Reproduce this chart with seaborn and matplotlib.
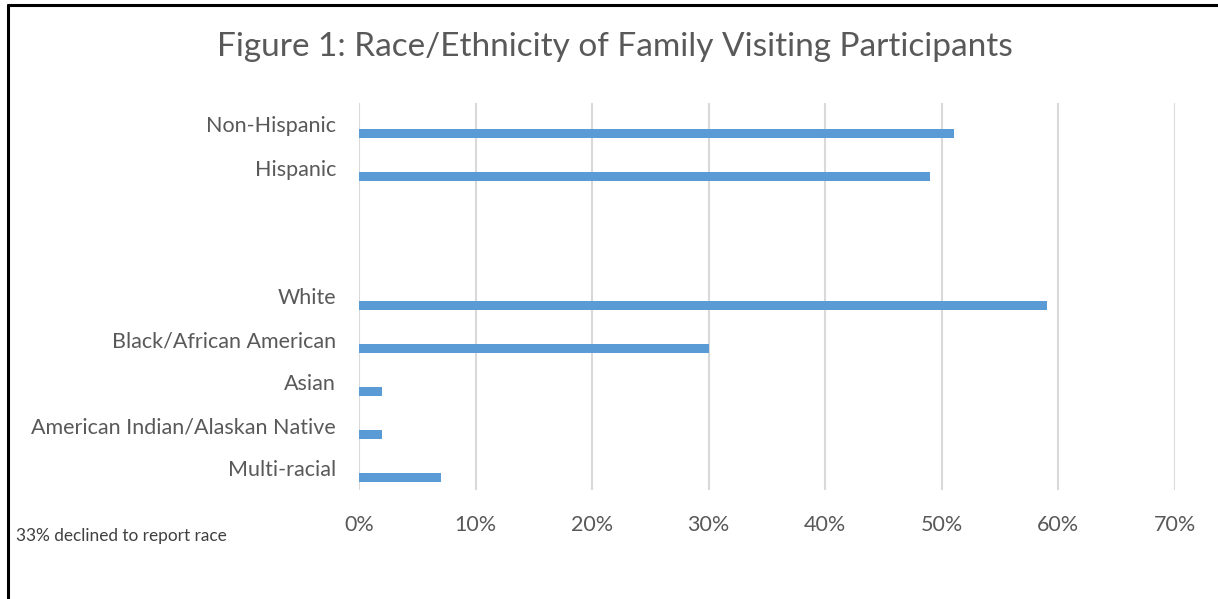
import matplotlib
matplotlib.use("Agg")
import matplotlib.pyplot as plt
import matplotlib.transforms as mtransforms
import seaborn as sns
import pandas as pd
from matplotlib.lines import Line2D

categories = ["Non-Hispanic", "Hispanic", " ", "  ", "White", "Black/African American",
              "Asian", "American Indian/Alaskan Native", "Multi-racial"]
values = [51, 49, 0, 0, 59, 30, 2, 2, 7]
xticks = [0, 10, 20, 30, 40, 50, 60, 70]
title = "Figure 1: Race/Ethnicity of Family Visiting Participants"
footnote = "33% declined to report race"

sns.set_theme(style="white")
plt.rcParams['font.family'] = ['Lato', 'DejaVu Sans']

W, H = 1218, 599
fig = plt.figure(figsize=(W / 100, H / 100), dpi=100)
ax = fig.add_axes([359 / W, 1 - 490 / H, (1175 - 359) / W, (490 - 103) / H])

df = pd.DataFrame({"cat": categories, "val": values})
sns.barplot(data=df, x="val", y="cat", order=categories, color="#5b9bd5",
            width=0.21, saturation=1, ax=ax, linewidth=0)

ax.set_xlim(0, 70)
ax.set_xticks(xticks)
ax.set_xticklabels([f"{t}%" for t in xticks])
ax.xaxis.grid(True, color="#d9d9d9", linewidth=1.5)
ax.set_axisbelow(True)
for s in ax.spines.values():
    s.set_visible(False)
ax.set_xlabel("")
ax.set_ylabel("")
ax.tick_params(axis="both", length=0, colors="#595959", labelsize=15.5)
ax.tick_params(axis="x", pad=18)
ax.tick_params(axis="y", pad=16.5)

# bars sit slightly below the category centre, as in the source chart
offset = mtransforms.ScaledTranslation(0, -9 / 100, fig.dpi_scale_trans)
for p in ax.patches:
    p.set_transform(ax.transData + offset)

fig.text(615 / W, 1 - 47.5 / H, title, ha="center", va="center", fontsize=24, color="#595959")
fig.text(16 / W, 1 - 536 / H, footnote, ha="left", va="center", fontsize=12.4, color="#404040")

# frame lines
fig.add_artist(Line2D([8 / W, 8 / W], [0, 1 - 5 / H], transform=fig.transFigure, color="black", linewidth=2.2))
fig.add_artist(Line2D([8 / W, 1], [1 - 5 / H, 1 - 5 / H], transform=fig.transFigure, color="black", linewidth=2.2))

fig.savefig("out.png", dpi=100)
